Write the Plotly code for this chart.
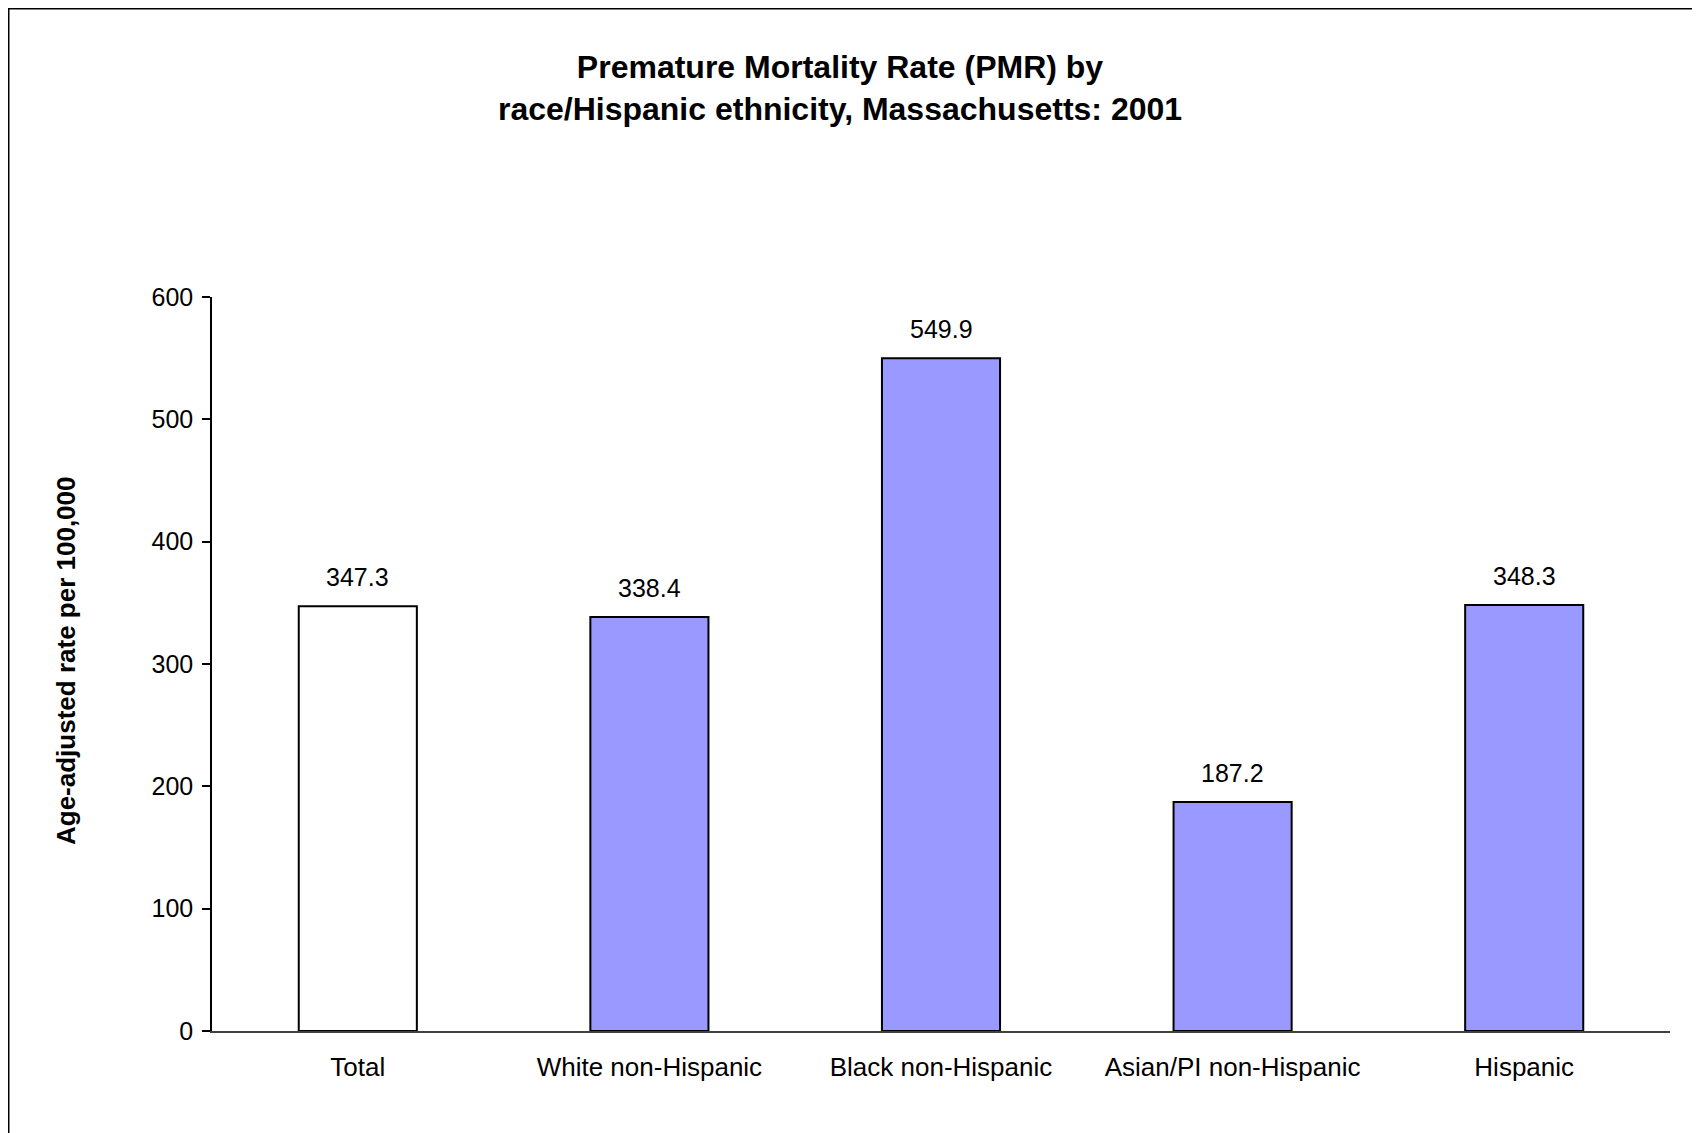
import plotly.graph_objects as go

categories = ["Total", "White non-Hispanic", "Black non-Hispanic", "Asian/PI non-Hispanic", "Hispanic"]
values = [347.3, 338.4, 549.9, 187.2, 348.3]
label_texts = ["347.3", "338.4", "549.9", "187.2", "348.3"]
fill_colors = ["#FFFFFF", "#9999FF", "#9999FF", "#9999FF", "#9999FF"]
y_ticks = [0, 100, 200, 300, 400, 500, 600]

W, H = 1700, 1133
L, R, T, B = 204, 38, 289, 110
pw = W - L - R
ph = H - T - B

def px_x(p):
    return (p - L) / pw

def px_y(p):
    return (H - B - p) / ph

FONT = "Liberation Sans, Arial, sans-serif"

fig = go.Figure()
fig.add_trace(go.Bar(
    x=categories, y=values,
    marker=dict(color=fill_colors, line=dict(color="#000000", width=2)),
    width=0.405,
    hoverinfo="x+y",
))

annotations = []
for c, v, t in zip(categories, values, label_texts):
    annotations.append(dict(
        x=c, y=v, xref="x", yref="y", text=t, showarrow=False,
        yanchor="bottom", yshift=13,
        font=dict(family=FONT, size=25, color="#000000"),
    ))

annotations.append(dict(
    x=px_x(58), y=px_y(653), xref="paper", yref="paper",
    text="<b>Age-adjusted rate per 100,000</b>", showarrow=False, textangle=-90,
    xanchor="center", yanchor="middle",
    font=dict(family=FONT, size=26, color="#000000"),
))

fig.update_layout(
    width=W, height=H,
    margin=dict(l=L, r=R, t=T, b=B, pad=0),
    paper_bgcolor="#FFFFFF", plot_bgcolor="#FFFFFF",
    showlegend=False,
    title=dict(
        text="<b>Premature Mortality Rate (PMR) by<br>race/Hispanic ethnicity, Massachusetts: 2001</b>",
        x=832 / W, xanchor="center", xref="container",
        y=1 - 70 / H, yanchor="top", yref="container",
        font=dict(family=FONT, size=32, color="#000000"),
    ),
    font=dict(family=FONT, size=25, color="#000000"),
    annotations=annotations,
    shapes=[dict(
        type="rect", xref="paper", yref="paper",
        x0=px_x(0.5), x1=px_x(1720), y0=px_y(1160), y1=px_y(0.5),
        line=dict(color="#000000", width=2), fillcolor="rgba(0,0,0,0)", layer="below",
    )],
)

fig.update_xaxes(
    type="category",
    showline=True, linecolor="#404040", linewidth=1.5,
    ticks="", showgrid=False, zeroline=False, ticklabelstandoff=12,
    tickfont=dict(family=FONT, size=26, color="#000000"),
)
fig.update_yaxes(
    range=[0, 600], tickvals=y_ticks, ticktext=[str(v) for v in y_ticks],
    showline=True, linecolor="#000000", linewidth=1.5,
    ticks="outside", ticklen=8, tickcolor="#000000", tickwidth=1.5,
    showgrid=False, zeroline=False, ticklabelstandoff=4,
    tickfont=dict(family=FONT, size=25, color="#000000"),
)

fig.write_html("out.html")
